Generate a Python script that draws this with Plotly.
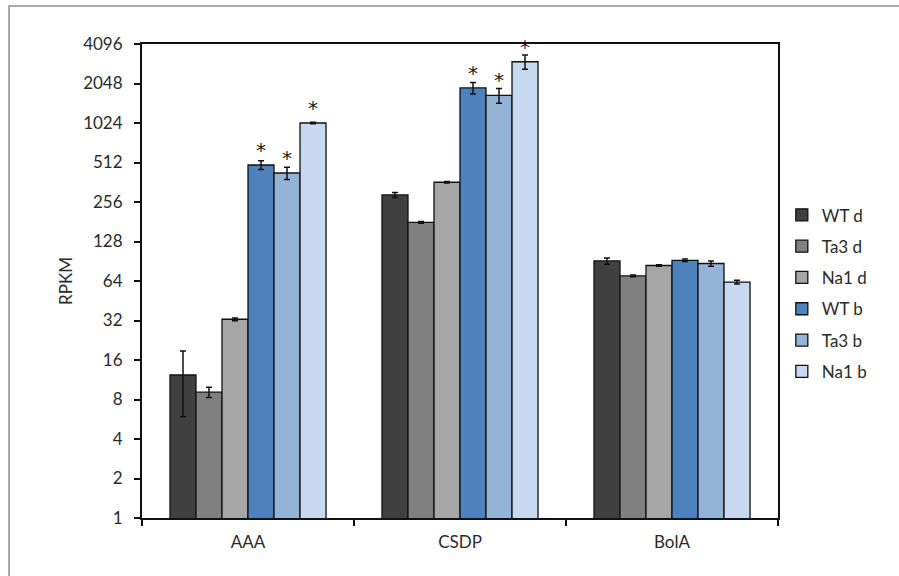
import math
import plotly.graph_objects as go

categories = ["AAA", "CSDP", "BolA"]
series_names = ["WT d", "Ta3 d", "Na1 d", "WT b", "Ta3 b", "Na1 b"]

wt_d = [12.3, 290, 91]
ta3_d = [9.1, 179, 70]
na1_d = [32.7, 362, 84]
wt_b = [490, 1894, 92]
ta3_b = [426, 1665, 87]
na1_b = [1024, 3000, 62.8]

wt_d_err = [6.4, 13, 5]
ta3_d_err = [0.8, 3, 1]
na1_d_err = [0.8, 5, 1]
wt_b_err = [37, 190, 2]
ta3_b_err = [46, 215, 4]
na1_b_err = [15, 370, 2]

stars_b = ["*", "*", ""]
stars_d = ["", "", ""]

y_ticks = [1, 2, 4, 8, 16, 32, 64, 128, 256, 512, 1024, 2048, 4096]

values = [wt_d, ta3_d, na1_d, wt_b, ta3_b, na1_b]
errors = [wt_d_err, ta3_d_err, na1_d_err, wt_b_err, ta3_b_err, na1_b_err]
stars = [stars_d, stars_d, stars_d, stars_b, stars_b, stars_b]
colors = ["#404040", "#808080", "#a6a6a6", "#4f81bd", "#95b3d7", "#c6d9f1"]

FONT = "Lato, 'Open Sans', sans-serif"
TXT = "#2b2b2b"
STAR_FONT = dict(size=20, color="#1a1a1a", family="DejaVu Sans")

fig = go.Figure()
for name, v, e, s, c in zip(series_names, values, errors, stars, colors):
    fig.add_trace(go.Bar(
        name=name, x=categories, y=v,
        marker=dict(color=c, line=dict(color="#111111", width=1.3)),
        error_y=dict(type="data", array=e, visible=True, color="#111111",
                     thickness=1.5, width=3),
        text=s, textposition="outside", cliponaxis=False, constraintext="none",
        textfont=STAR_FONT, outsidetextfont=STAR_FONT,
        hoverinfo="skip",
        legendgroup=name,
    ))

fig.update_layout(
    width=899, height=576,
    margin=dict(l=142, r=121, t=44, b=58),
    paper_bgcolor="white", plot_bgcolor="white",
    barmode="group", bargap=0.264, bargroupgap=0,
    font=dict(family=FONT, size=17, color=TXT),
    legend=dict(x=1.006, y=0.474, xanchor="left", yanchor="middle",
                font=dict(size=17, color=TXT, family=FONT),
                tracegroupgap=6.2, traceorder="grouped",
                bgcolor="rgba(0,0,0,0)"),
    xaxis=dict(showline=True, linecolor="#111111", linewidth=2, mirror=True,
               ticks="outside", ticklen=6, tickcolor="#111111", tickwidth=1.5,
               tickson="boundaries", ticklabelstandoff=8,
               tickfont=dict(size=17, color=TXT)),
    yaxis=dict(type="log", range=[0, math.log10(4096)],
               tickvals=y_ticks, ticktext=[str(t) for t in y_ticks],
               showline=True, linecolor="#111111", linewidth=2, mirror=True,
               ticks="outside", ticklen=6, tickcolor="#111111", tickwidth=1.5,
               showgrid=False, zeroline=False, ticklabelstandoff=8,
               tickfont=dict(size=17, color=TXT),
               title=dict(text="RPKM", font=dict(size=17, color=TXT), standoff=6)),
    shapes=[dict(type="rect", xref="paper", yref="paper",
                 x0=-0.209, x1=1.4, y0=-0.3, y1=1.080,
                 line=dict(color="#8c8c8c", width=1.5), layer="below")],
    showlegend=True,
)

fig.write_html("out.html", config={"displayModeBar": False},
               post_script="document.body.style.margin='0px';")
